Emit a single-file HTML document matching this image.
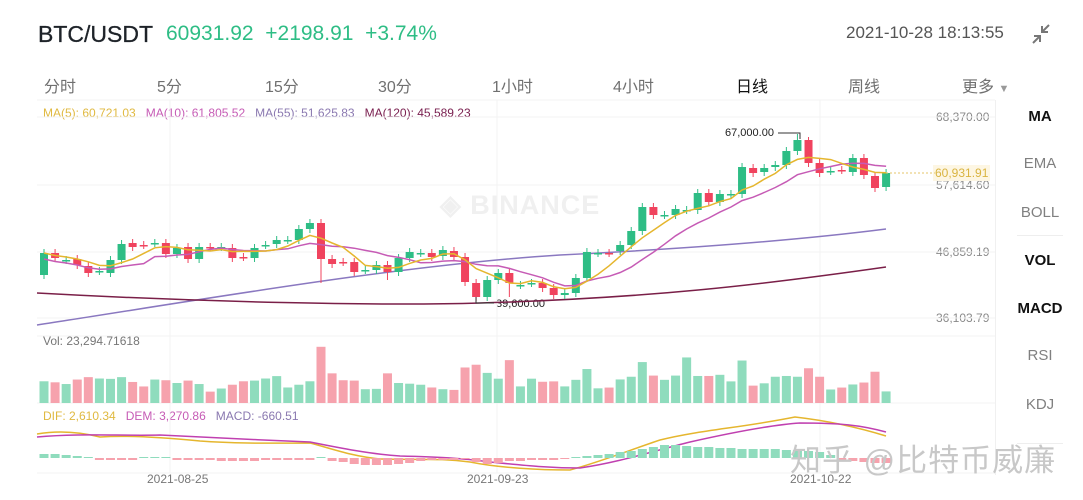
<!DOCTYPE html>
<html><head><meta charset="utf-8"><style>
body{margin:0;width:1083px;height:500px;background:#fff;overflow:hidden;position:relative;font-family:"Liberation Sans","Noto Sans CJK SC",sans-serif}
.a{position:absolute;white-space:nowrap}
.tab{position:absolute;top:73px;font-size:16px;color:#707070}
.sb{position:absolute;left:1000px;width:80px;text-align:center;font-size:15px;color:#808080}
.sb.b{color:#111;font-weight:bold}
</style></head><body>
<div class="a" style="left:38px;top:21px;font-size:23px;color:#1e2329;-webkit-text-stroke:0.3px #1e2329">BTC/USDT</div>
<div class="a" style="left:166px;top:22px;font-size:21px;color:#2ebd85">60931.92&nbsp; +2198.91&nbsp; +3.74%</div>
<div class="a" style="left:846px;top:23px;font-size:17px;color:#555">2021-10-28 18:13:55</div>
<svg class="a" style="left:1028px;top:22px" width="26" height="24"><path d="M5 21 L12 14 M6 14 L12 14 L12 20 M21 3 L14 10 M14 4 L14 10 L20 10" stroke="#777" stroke-width="2" fill="none"/></svg>
<div class="tab" style="left:44px">分时</div>
<div class="tab" style="left:157px">5分</div>
<div class="tab" style="left:265px">15分</div>
<div class="tab" style="left:378px">30分</div>
<div class="tab" style="left:492px">1小时</div>
<div class="tab" style="left:613px">4小时</div>
<div class="tab" style="left:736px;color:#111">日线</div>
<div class="tab" style="left:848px">周线</div>
<div class="tab" style="left:962px">更多 <span style="font-size:11px;color:#999">▼</span></div>
<div class="a" style="left:43px;top:106px;font-size:12px"><span style="color:#e0b940">MA(5): 60,721.03</span>&nbsp;&nbsp; <span style="color:#c65bb5">MA(10): 61,805.52</span>&nbsp;&nbsp; <span style="color:#8a78b0">MA(55): 51,625.83</span>&nbsp;&nbsp; <span style="color:#7a2050">MA(120): 45,589.23</span></div>
<div class="a" style="left:43px;top:334px;font-size:12px;color:#777">Vol: 23,294.71618</div>
<div class="a" style="left:43px;top:409px;font-size:12px"><span style="color:#e0b940">DIF: 2,610.34</span>&nbsp;&nbsp; <span style="color:#c65bb5">DEM: 3,270.86</span>&nbsp;&nbsp; <span style="color:#8a78b0">MACD: -660.51</span></div>
<div class="a" style="left:440px;top:190px;font-size:27px;font-weight:bold;color:#f0f0f0;letter-spacing:1px">◈ BINANCE</div>
<div class="a" style="left:147px;top:472px;font-size:12px;color:#777">2021-08-25</div>
<div class="a" style="left:467px;top:472px;font-size:12px;color:#777">2021-09-23</div>
<div class="a" style="left:790px;top:472px;font-size:12px;color:#777">2021-10-22</div>
<div class="a" style="left:936px;top:110px;font-size:12px;color:#888;background:#fff">68,370.00</div>
<div class="a" style="left:936px;top:178px;font-size:12px;color:#888;background:#fff">57,614.60</div>
<div class="a" style="left:936px;top:245px;font-size:12px;color:#888;background:#fff">46,859.19</div>
<div class="a" style="left:936px;top:311px;font-size:12px;color:#888;background:#fff">36,103.79</div>
<div class="a" style="left:933px;top:165px;font-size:12px;color:#d9b440;background:#fdf6e3;padding:1px 2px">60,931.91</div>
<div class="a" style="left:725px;top:127px;font-size:11px;color:#222">67,000.00</div>
<div class="a" style="left:496px;top:298px;font-size:11px;color:#222">39,600.00</div>
<div class="sb b" style="top:108px">MA</div>
<div class="sb" style="top:155px">EMA</div>
<div class="sb" style="top:204px">BOLL</div>
<div class="sb b" style="top:252px">VOL</div>
<div class="sb b" style="top:300px">MACD</div>
<div class="sb" style="top:347px">RSI</div>
<div class="sb" style="top:396px">KDJ</div>
<div class="a" style="left:1017px;top:235px;width:46px;height:1px;background:#eee"></div>
<div class="a" style="left:1017px;top:443px;width:46px;height:1px;background:#eee"></div>
<div class="a" style="left:995px;top:100px;width:1px;height:375px;background:#f0f0f0"></div>
<svg id="c" class="a" style="left:0;top:0" width="1083" height="500"></svg>
<div class="a" style="left:790px;top:435px;font-size:31px;color:#c8c8c8;letter-spacing:1px">知乎 @比特币威廉</div>
<script>
var C=[[275,253],[253,258],[260,260],[259,265],[266,273],[271,271],[273,260],[260,244],[243,247],[245,245],[243,243],[243,254],[254,248],[247,259],[259,247],[247,247],[247,247],[248,258],[257,257],[258,248],[245,245],[244,240],[240,240],[240,229],[229,223],[223,259],[259,264],[262,262],[262,272],[270,270],[270,265],[265,272],[272,258],[258,252],[253,253],[253,257],[256,250],[251,257],[257,282],[283,297],[297,280],[280,273],[273,283],[285,285],[283,283],[283,288],[288,295],[295,293],[293,278],[278,252],[253,253],[253,253],[251,245],[245,231],[231,207],[207,215],[215,215],[215,209],[210,210],[210,193],[193,202],[202,194],[194,194],[194,167],[168,173],[172,168],[167,165],[165,151],[151,140],[140,163],[163,173],[171,171],[170,170],[172,158],[158,175],[176,188],[187,173]];
var V3=[155,158,163,150,143,147,148,143,157,170,150,152,160,153,163,185,176,165,155,153,147,140,173,165,155,55,132,152,153,178,177,132,160,162,165,173,178,180,115,107];
var V6=[140,155,107,175,155,163,162,175,158,130,180,178,157,150,112,147,158,147,100,148,148,145,162,108,173,167,150,148,150,128,150,183,178,170,165,137,188];
var s='',G='#2ebd85',R='#f0435e',GV='#8fdcbd',RV='#f6a2ad';
function X(i){return 44+i*11.08}
s+='<g stroke="#f3f3f3" stroke-width="1">';
[117,185,252,318].forEach(function(y){s+='<line x1="37" x2="995" y1="'+y+'" y2="'+y+'"/>'});
[170,497,820].forEach(function(x){s+='<line x1="'+x+'" x2="'+x+'" y1="100" y2="473"/>'});
s+='<line x1="37" x2="995" y1="100" y2="100"/><line x1="37" x2="995" y1="336" y2="336"/><line x1="37" x2="995" y1="403" y2="403"/><line x1="37" x2="995" y1="473" y2="473"/></g>';
s+='<path d="M37 325 C200 300 400 265 560 255 C700 248 800 240 886 229" stroke="#8a78c0" stroke-width="1.5" fill="none"/>';
s+='<path d="M37 293 C200 302 380 306 480 303 C650 298 760 285 886 267" stroke="#7a1f48" stroke-width="1.5" fill="none"/>';
var hi={25:283,31:280,42:297,68:134,69:137};
C.forEach(function(c,i){var x=X(i),o=c[0],cl=c[1];var col=(cl<o)?G:(cl>o?R:(i%3?G:R));
var t=Math.min(o,cl),b=Math.max(o,cl);var h=Math.max(b-t,1.5);
var wh=t-4,wl=b+4;if(hi[i]){if(hi[i]>b)wl=hi[i];else wh=hi[i];}
s+='<line x1="'+x+'" x2="'+x+'" y1="'+wh+'" y2="'+wl+'" stroke="'+col+'" stroke-width="1"/>';
s+='<rect x="'+(x-4)+'" y="'+t+'" width="8" height="'+h+'" fill="'+col+'"/>';
var vt=i<40?(218-V3[i])/2.9:(218-V6[i-40])/2.59;
s+='<rect x="'+(x-4.5)+'" y="'+(403-vt)+'" width="9" height="'+vt+'" fill="'+(col==G?GV:RV)+'"/>';
});
function ma(n){var p='';C.forEach(function(c,i){var a=0,k=0;for(var j=Math.max(0,i-n+1);j<=i;j++){a+=C[j][1];k++;}var v=a/k;if(n==10&&i<10)v+=6;p+=(i?'L':'M')+X(i).toFixed(1)+' '+v.toFixed(1);});return p}
s+='<path d="'+ma(10)+'" stroke="#c65bb5" stroke-width="1.5" fill="none"/>';
s+='<path d="'+ma(5)+'" stroke="#e5b62e" stroke-width="1.5" fill="none"/>';
s+='<line x1="886" x2="935" y1="173" y2="173" stroke="#e5c66a" stroke-dasharray="2,2"/>';
s+='<polyline points="778,133 800,133 800,139" stroke="#333" fill="none"/><polyline points="476,297 476,303 494,303" stroke="#333" fill="none"/>';
s+='<path d="M37 434 C60 430 80 432 100 437 C130 435 170 438 200 441 C240 444 280 443 310 443 C330 448 350 456 380 459 C420 460 440 458 470 462 C500 468 540 470 570 470 C600 462 630 450 660 440 C700 430 740 428 795 417 C830 421 860 428 886 436" stroke="#e5b62e" stroke-width="1.5" fill="none"/>';
s+='<path d="M37 437 C80 433 120 436 160 435 C200 437 260 440 310 442 C340 448 370 454 400 456 C440 457 460 458 490 462 C530 466 550 468 580 468 C620 462 650 452 690 442 C730 433 770 425 800 423 C840 423 860 425 886 432" stroke="#c040b0" stroke-width="1.5" fill="none"/>';
var M=[-4,-4,-3,-2,-1,2,2,2,2,-1,-1,-1,2,2,2,2,3,3,3,3,2,2,2,2,2,-1,3,4,6,7,7,7,6,5,3,2,2,2,1,4,6,5,3,3,2,2,2,1,-1,-2,-3,-4,-6,-7,-9,-11,-13,-13,-12,-11,-11,-10,-10,-9,-9,-9,-9,-8,-8,-7,-6,-3,2,3,4,5,5];
M.forEach(function(m,i){var x=X(i);var col=m<0?GV:RV;var y=m<0?458+m:458;
s+='<rect x="'+(x-4.5)+'" y="'+y+'" width="9" height="'+Math.abs(m)+'" fill="'+col+'"/>';});
document.getElementById('c').innerHTML=s;
</script>
</body></html>
